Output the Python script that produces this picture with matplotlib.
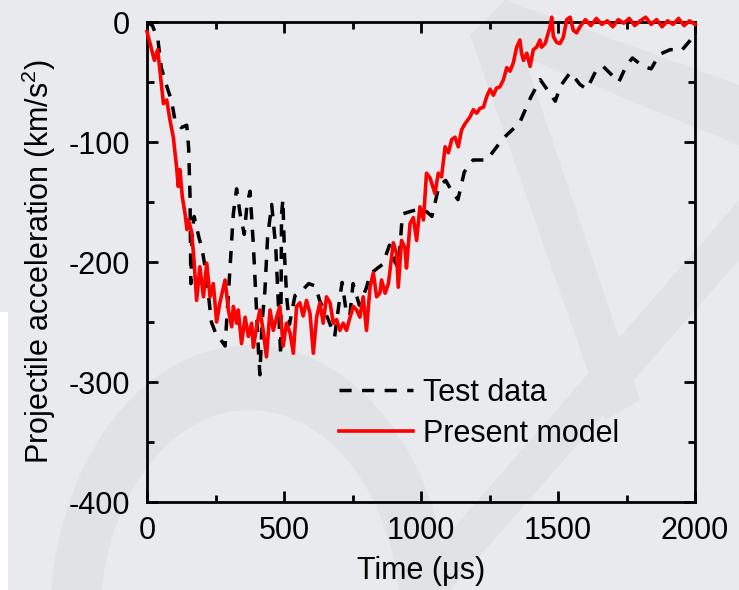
import numpy as np
import matplotlib
matplotlib.use("Agg")
import matplotlib.pyplot as plt
from matplotlib.patches import Polygon, Rectangle

plt.rcParams['font.family'] = ['Liberation Sans', 'DejaVu Sans']
plt.rcParams['mathtext.fontset'] = 'custom'
plt.rcParams['mathtext.rm'] = 'Liberation Sans'
plt.rcParams['axes.unicode_minus'] = False

# Test data (dashed black), time in us, acceleration in km/s^2
test_t = [0, 20, 40, 52, 70, 90, 102, 125, 145, 152, 157, 160, 165, 172, 190, 200,
          215, 235, 255, 270, 285, 303, 315, 327, 340, 355, 365, 376, 388, 398, 407,
          412, 420, 430, 440, 455, 470, 480, 488, 491, 496, 502, 510, 520, 540, 565,
          590, 615, 630, 660, 685, 700, 712, 725, 740, 752, 775, 800, 815, 842, 860,
          885, 905, 918, 932, 960, 990, 1020, 1040, 1065, 1090, 1115, 1135, 1158,
          1190, 1240, 1300, 1360, 1400, 1435, 1490, 1510, 1545, 1580, 1605, 1640,
          1665, 1700, 1722, 1750, 1772, 1810, 1840, 1870, 1910, 1950, 1980, 2000]
test_a = [0, -3, -15, -38, -52, -66, -82, -88, -86, -105, -145, -218, -175, -162, -180, -188,
          -208, -250, -262, -265, -270, -205, -160, -139, -160, -177, -152, -141, -185, -232, -275,
          -294, -250, -225, -180, -152, -188, -238, -278, -160, -148, -195, -230, -252, -228, -224,
          -218, -220, -232, -247, -262, -236, -217, -238, -245, -218, -236, -222, -210, -205, -202,
          -186, -200, -205, -160, -158, -156, -158, -162, -137, -132, -142, -148, -125,
          -115, -115, -97, -84, -63, -48, -66, -53, -42, -52, -56, -40,
          -37, -45, -50, -36, -30, -37, -39, -27, -23, -24, -16, -10]

# Present model (solid red)
model_t = [0, 17, 27, 39, 47, 60, 72, 84, 96, 108, 114, 120, 129, 139, 146, 151, 163, 172,
           181, 193, 206, 218, 230, 242, 254, 266, 285, 297, 309, 315, 327, 333, 345, 358,
           370, 382, 388, 400, 412, 424, 436, 449, 461, 473, 485, 497, 509, 522, 534, 546,
           558, 570, 582, 595, 607, 619, 631, 643, 655, 668, 680, 692, 704, 716, 728, 741,
           753, 765, 777, 789, 801, 814, 826, 838, 850, 856, 869, 881, 899, 911, 917, 929,
           941, 947, 960, 972, 984, 996, 1009, 1020, 1033, 1051, 1063, 1075, 1088, 1100,
           1112, 1124, 1136, 1148, 1160, 1179, 1191, 1203, 1215, 1228, 1240, 1252, 1264,
           1276, 1288, 1301, 1313, 1325, 1337, 1349, 1361, 1367, 1374, 1386, 1398, 1410,
           1422, 1434, 1440, 1453, 1471, 1477, 1483, 1495, 1507, 1519, 1532, 1544, 1556,
           1568, 1580, 1600, 1620, 1640, 1660, 1680, 1700, 1720, 1740, 1760, 1780, 1800,
           1820, 1840, 1860, 1880, 1900, 1920, 1940, 1960, 1980, 2000]
model_a = [-8, -23, -32, -23, -40, -68, -65, -82, -96, -121, -137, -123, -146, -160, -173, -165, -175, -200,
           -232, -204, -229, -201, -229, -218, -250, -234, -215, -240, -254, -237, -251, -240, -268, -246,
           -262, -251, -271, -254, -240, -257, -279, -240, -257, -246, -237, -270, -251, -259, -276, -237,
           -234, -245, -232, -243, -276, -246, -234, -251, -229, -234, -251, -248, -257, -251, -257, -246,
           -237, -240, -246, -229, -257, -221, -209, -229, -226, -215, -226, -218, -184, -193, -221, -182,
           -188, -205, -168, -163, -182, -154, -165, -126, -130, -143, -126, -129, -104, -109,
           -98, -96, -104, -90, -85, -79, -73, -76, -72, -71, -62, -56, -61,
           -55, -54, -48, -38, -41, -34, -21, -15, -26, -32, -26, -37, -23,
           -21, -15, -21, -18, -4, 4, -12, -17, -18, -13, 2, 4, -7,
           -9, -4, 2, -3, 3, -2, 1, -4, 2, -1, 3, -3, 1,
           4, -2, 2, -4, 1, -2, 3, -3, 1, -2]

W, H = 739, 590
bg = '#e9eaed'
shade = '#e1e2e5'
fig = plt.figure(figsize=(W / 100, H / 100), dpi=100, facecolor=bg)


def fpos(pts):
    return [(x / W, 1 - y / H) for x, y in pts]


# faint background shapes behind the plot
ang = np.linspace(0.0, np.pi, 90)
cx, cy = 250, 620
outer = [(cx + 200 * np.cos(a), cy - 275 * np.sin(a)) for a in ang]
inner = [(cx + 150 * np.cos(a), cy - 210 * np.sin(a)) for a in ang[::-1]]
fig.patches.append(Polygon(fpos(outer + inner), closed=True, transform=fig.transFigure,
                           facecolor=shade, edgecolor='none', zorder=0))
fig.patches.append(Polygon(fpos([(470, 35), (505, 0), (739, 85), (739, 145)]), closed=True,
                           transform=fig.transFigure, facecolor=shade, edgecolor='none', zorder=0))
fig.patches.append(Polygon(fpos([(470, 35), (505, 0), (640, 400), (605, 420)]), closed=True,
                           transform=fig.transFigure, facecolor=shade, edgecolor='none', zorder=0))
fig.patches.append(Polygon(fpos([(739, 200), (739, 260), (450, 590), (400, 590)]), closed=True,
                           transform=fig.transFigure, facecolor=shade, edgecolor='none', zorder=0))
fig.patches.append(Rectangle((0, 0), 8 / W, 278 / H, transform=fig.transFigure,
                             facecolor='white', edgecolor='none', zorder=0))

ax = fig.add_axes([147 / W, 1 - 502 / H, 548 / W, 480 / H])
ax.set_zorder(2)
ax.set_facecolor('none')

ax.plot(test_t, test_a, color='black', lw=2.5, dashes=(3.5, 3), label='Test data', zorder=3)
ax.plot(model_t, model_a, color='#ff0000', lw=2.6, solid_joinstyle='round',
        label='Present model', zorder=4, clip_on=False)

ax.set_xlim(0, 2000)
ax.set_ylim(-400, 0)
ax.set_xticks([0, 500, 1000, 1500, 2000])
ax.set_xticks([250, 750, 1250, 1750], minor=True)
ax.set_yticks([-400, -300, -200, -100, 0])
ax.set_yticks([-350, -250, -150, -50], minor=True)

for s in ax.spines.values():
    s.set_linewidth(2)
ax.tick_params(which='both', direction='in', top=True, right=True, width=2, labelsize=22)
ax.tick_params(which='major', length=8)
ax.tick_params(which='minor', length=5)
ax.tick_params(axis='y', pad=12)
ax.tick_params(axis='x', pad=10)

ax.set_xlabel('Time (\u03bcs)', fontsize=22, labelpad=7)
ax.set_ylabel('Projectile acceleration (km/s$^2$)', fontsize=22, labelpad=8)

ax.legend(loc='center left', bbox_to_anchor=(0.323, 0.185), frameon=False, fontsize=22,
          handlelength=2.4, handletextpad=0.33, labelspacing=0.35, borderpad=0)

fig.savefig('out.png', dpi=100, facecolor=bg)
